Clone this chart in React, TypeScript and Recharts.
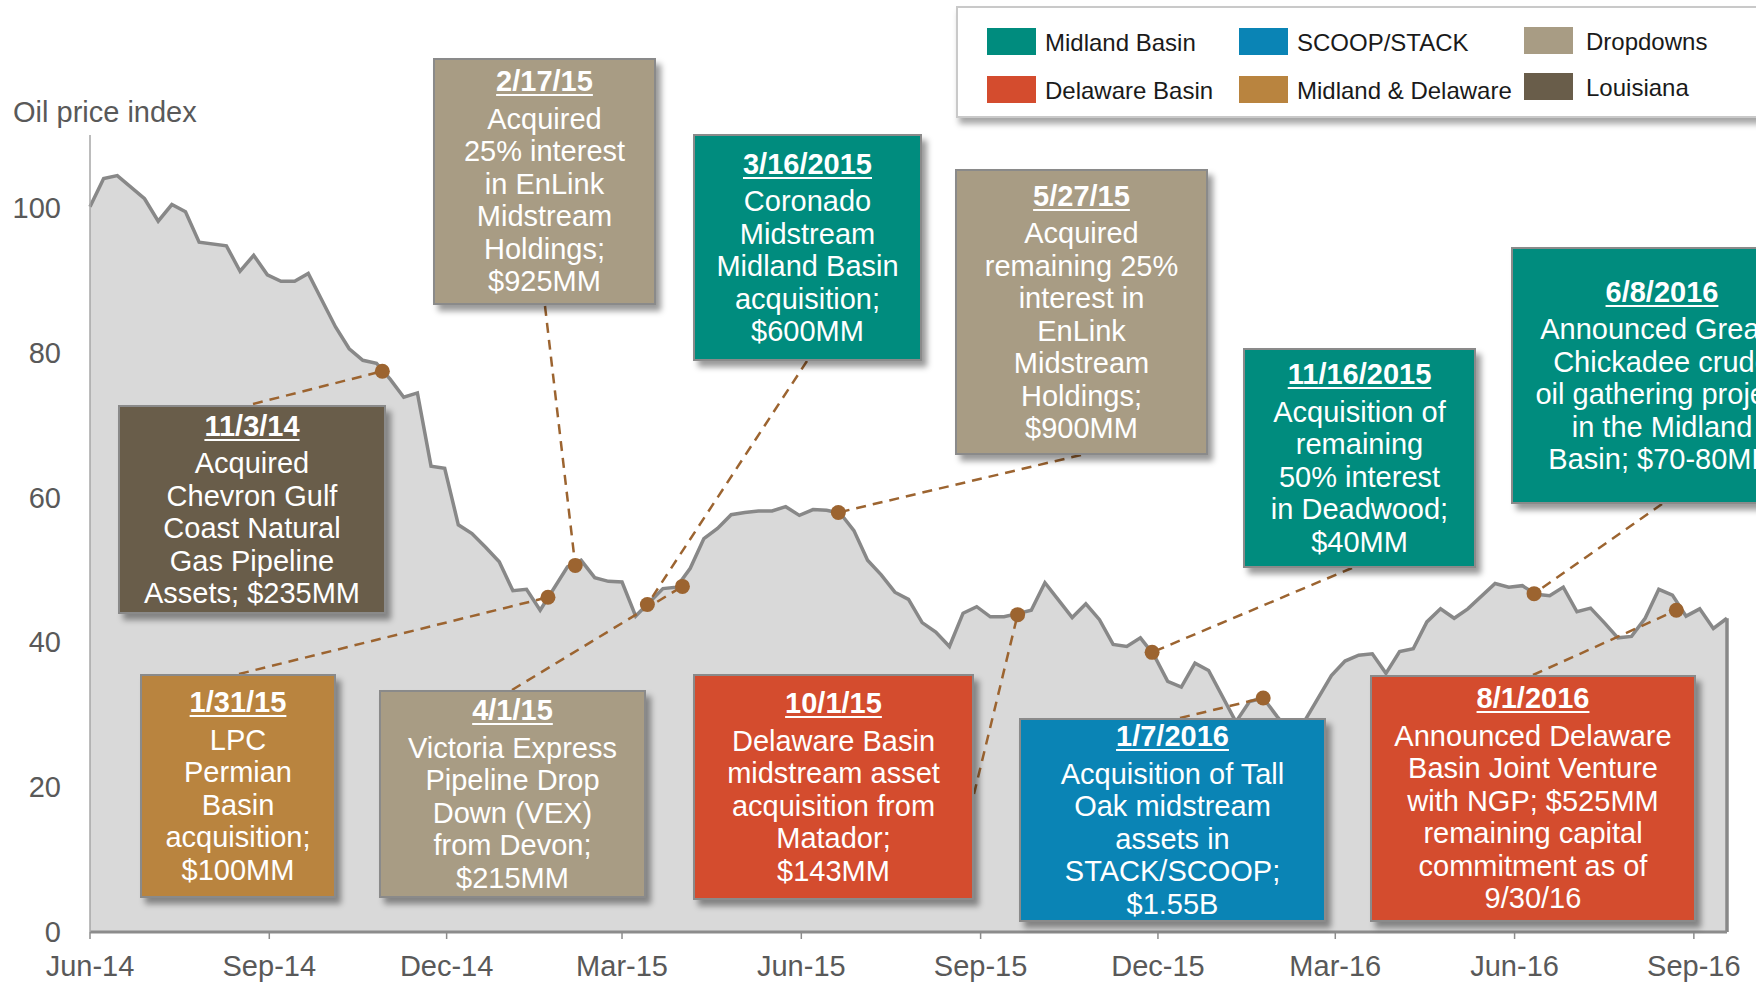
import React from "react";
import {
  ComposedChart,
  Area,
  XAxis,
  YAxis,
  ReferenceDot,
  ReferenceLine,
} from "recharts";

// weekly oil price index
const weekDates = [
  "2014-06-01", "2014-06-08", "2014-06-15", "2014-06-29", "2014-07-06", "2014-07-13",
  "2014-07-20", "2014-07-27", "2014-08-10", "2014-08-17", "2014-08-24", "2014-08-31",
  "2014-09-07", "2014-09-14", "2014-09-21", "2014-09-28", "2014-10-05", "2014-10-12",
  "2014-10-19", "2014-10-26", "2014-11-02", "2014-11-09", "2014-11-16", "2014-11-23",
  "2014-11-30", "2014-12-07", "2014-12-14", "2014-12-21", "2014-12-28", "2015-01-04",
  "2015-01-11", "2015-01-18", "2015-02-01", "2015-02-08", "2015-02-15", "2015-02-22",
  "2015-03-01", "2015-03-08", "2015-03-22", "2015-03-29", "2015-04-05", "2015-04-12",
  "2015-04-19", "2015-04-26", "2015-05-03", "2015-05-10", "2015-05-17", "2015-05-24",
  "2015-05-31", "2015-06-07", "2015-06-14", "2015-06-21", "2015-06-28", "2015-07-05",
  "2015-07-12", "2015-07-19", "2015-07-26", "2015-08-02", "2015-08-09", "2015-08-16",
  "2015-08-23", "2015-08-30", "2015-09-06", "2015-09-13", "2015-09-27", "2015-10-04",
  "2015-10-11", "2015-10-18", "2015-10-25", "2015-11-01", "2015-11-08", "2015-11-15",
  "2015-11-22", "2015-11-29", "2015-12-06", "2015-12-13", "2015-12-20", "2015-12-27",
  "2016-01-10", "2016-01-17", "2016-01-24", "2016-01-31", "2016-02-07", "2016-02-14",
  "2016-02-28", "2016-03-06", "2016-03-13", "2016-03-20", "2016-03-27", "2016-04-03",
  "2016-04-10", "2016-04-17", "2016-04-24", "2016-05-01", "2016-05-08", "2016-05-22",
  "2016-05-29", "2016-06-05", "2016-06-12", "2016-06-19", "2016-06-26", "2016-07-03",
  "2016-07-10", "2016-07-17", "2016-07-24", "2016-07-31", "2016-08-07", "2016-08-14",
  "2016-08-21", "2016-08-28", "2016-09-04", "2016-09-11", "2016-09-18",
];

const oilIndex = [
  100.1, 104.0, 104.4, 101.2, 98.1, 100.4,
  99.4, 95.2, 94.7, 91.2, 93.4, 90.7,
  89.8, 89.8, 90.9, 87.2, 83.5, 80.5,
  78.9, 78.5, 76.3, 73.8, 74.4, 64.3,
  64.0, 56.2, 55.0, 53.1, 51.1, 47.1,
  47.3, 44.4, 50.4, 51.3, 48.9, 48.4,
  48.3, 43.6, 47.4, 47.6, 50.2, 54.3,
  55.7, 57.6, 57.9, 58.1, 58.1, 58.7,
  57.5, 58.3, 58.2, 57.8, 55.4, 51.3,
  49.3, 46.9, 45.9, 42.7, 41.4, 39.4,
  44.0, 44.9, 43.5, 43.5, 44.4, 48.2,
  45.8, 43.4, 45.3, 43.1, 39.7, 39.4,
  40.6, 38.2, 34.6, 33.8, 37.1, 36.1,
  29.0, 31.8, 32.3, 29.8, 27.5, 29.0,
  35.4, 37.4, 38.2, 38.4, 35.7, 38.7,
  39.1, 42.8, 44.6, 43.3, 44.6, 48.1,
  47.6, 47.8, 46.6, 46.4, 47.6, 44.2,
  44.7, 42.7, 40.6, 40.8, 43.3, 47.3,
  46.5, 43.6, 44.6, 41.9, 43.3,
];

const tickDates = [
  "2014-06-01", "2014-09-01", "2014-12-01", "2015-03-01", "2015-06-01",
  "2015-09-01", "2015-12-01", "2016-03-01", "2016-06-01", "2016-09-01",
];
const tickLabels = [
  "Jun-14", "Sep-14", "Dec-14", "Mar-15", "Jun-15",
  "Sep-15", "Dec-15", "Mar-16", "Jun-16", "Sep-16",
];
const yTicks = [0, 20, 40, 60, 80, 100];

const legendNames = [
  "Midland Basin", "Delaware Basin", "SCOOP/STACK",
  "Midland & Delaware", "Dropdowns", "Louisiana",
];
const legendColors = ["#008c7e", "#d44c2e", "#0a84b5", "#b9843f", "#a89c84", "#695d4a"];

// deal events
const eventTitles = [
  "11/3/14", "1/31/15", "2/17/15", "3/16/2015", "4/1/15", "5/27/15",
  "10/1/15", "11/16/2015", "1/7/2016", "6/8/2016", "8/1/2016",
];
const eventText = [
  ["Acquired", "Chevron Gulf", "Coast Natural", "Gas Pipeline", "Assets; $235MM"],
  ["LPC", "Permian", "Basin", "acquisition;", "$100MM"],
  ["Acquired", "25% interest", "in EnLink", "Midstream", "Holdings;", "$925MM"],
  ["Coronado", "Midstream", "Midland Basin", "acquisition;", "$600MM"],
  ["Victoria Express", "Pipeline Drop", "Down (VEX)", "from Devon;", "$215MM"],
  ["Acquired", "remaining 25%", "interest in", "EnLink", "Midstream", "Holdings;", "$900MM"],
  ["Delaware Basin", "midstream asset", "acquisition from", "Matador;", "$143MM"],
  ["Acquisition of", "remaining", "50% interest", "in Deadwood;", "$40MM"],
  ["Acquisition of Tall", "Oak midstream", "assets in", "STACK/SCOOP;", "$1.55B"],
  ["Announced Great\u00a0\u00a0", "Chickadee crude", "oil gathering project", "in the Midland", "Basin; $70-80MM"],
  ["Announced Delaware", "Basin Joint Venture", "with NGP; $525MM", "remaining capital", "commitment as of", "9/30/16"],
];
const eventCategory = [5, 3, 4, 0, 4, 4, 1, 0, 2, 0, 1];
const markerDates = [
  "2014-10-29", "2015-01-22", "2015-02-05", "2015-03-14", "2015-04-01", "2015-06-20",
  "2015-09-20", "2015-11-28", "2016-01-24", "2016-06-11", "2016-08-23",
];
const markerValues = [77.4, 46.2, 50.6, 45.2, 47.7, 57.9, 43.8, 38.6, 32.3, 46.7, 44.4];

// box layout in page pixels: left, top, width, height, connector anchor x, y
const boxLayout = [
  [118, 405, 268, 209, 253, 404],
  [140, 674, 196, 224, 239, 674],
  [433, 58, 223, 247, 545, 306],
  [693, 134, 229, 227, 807, 361],
  [379, 690, 267, 208, 512, 690],
  [955, 169, 253, 286, 1081, 455],
  [693, 674, 281, 226, 974, 794],
  [1243, 348, 233, 220, 1352, 568],
  [1019, 718, 307, 204, 1180, 718],
  [1511, 247, 302, 257, 1662, 504],
  [1370, 675, 326, 247, 1533, 675],
];

const FONT = '"Liberation Sans", Arial, sans-serif';
const W = 1756;
const H = 982;
const PLOT_LEFT = 90;
const PLOT_RIGHT = 1727;
const PLOT_TOP = 135;
const PLOT_BOTTOM = 932;
const Y_MAX = 110;
const BROWN = "#9c6430";

const toTime = (s: string) => {
  const [y, m, d] = s.split("-").map(Number);
  return Date.UTC(y, m - 1, d);
};

const series = weekDates.map((d, i) => ({ t: toTime(d), v: oilIndex[i] }));
const tickTimes = tickDates.map(toTime);
const X_MIN = tickTimes[0];
const X_MAX = series[series.length - 1].t;

// page pixel -> data coordinates, for the box end of each connector
const pxToX = (px: number) =>
  X_MIN + ((px - PLOT_LEFT) / (PLOT_RIGHT - PLOT_LEFT)) * (X_MAX - X_MIN);
const pxToY = (py: number) =>
  (Y_MAX * (PLOT_BOTTOM - py)) / (PLOT_BOTTOM - PLOT_TOP);

const legendPos = [
  [987, 28], [987, 76], [1239, 28], [1239, 76], [1524, 27], [1524, 73],
];

export default function App() {
  const last = series[series.length - 1];
  return (
    <div
      style={{
        position: "absolute",
        left: 0,
        top: 0,
        width: W,
        height: H,
        overflow: "hidden",
        background: "#fff",
        fontFamily: FONT,
      }}
    >
      <ComposedChart
        width={W}
        height={H}
        data={series}
        margin={{ top: PLOT_TOP, right: W - PLOT_RIGHT, bottom: 0, left: 0 }}
      >
        <XAxis
          dataKey="t"
          type="number"
          domain={[X_MIN, X_MAX]}
          ticks={tickTimes}
          interval={0}
          height={H - PLOT_BOTTOM}
          tickFormatter={(v) => tickLabels[tickTimes.indexOf(v)] ?? ""}
          axisLine={{ stroke: "#8c8c8c", strokeWidth: 3 }}
          tickLine={{ stroke: "#8c8c8c", strokeWidth: 1.5 }}
          tickSize={7}
          tickMargin={16}
          tick={{ fill: "#595959", fontSize: 29, fontFamily: FONT }}
        />
        <YAxis
          type="number"
          domain={[0, Y_MAX]}
          ticks={yTicks}
          interval={0}
          width={PLOT_LEFT}
          axisLine={{ stroke: "#a6a6a6", strokeWidth: 1.5 }}
          tickLine={false}
          tickSize={0}
          tickMargin={29}
          tick={{ fill: "#595959", fontSize: 29, fontFamily: FONT }}
        />
        <Area
          type="linear"
          dataKey="v"
          stroke="#888888"
          strokeWidth={3.5}
          fill="#d9d9d9"
          fillOpacity={1}
          dot={false}
          activeDot={false}
          isAnimationActive={false}
        />
        <ReferenceLine
          segment={[
            { x: last.t, y: 0 },
            { x: last.t, y: last.v },
          ]}
          stroke="#888888"
          strokeWidth={3.5}
        />
        {markerDates.map((d, i) => (
          <ReferenceLine
            key={"c" + i}
            ifOverflow="visible"
            segment={[
              { x: pxToX(boxLayout[i][4]), y: pxToY(boxLayout[i][5]) },
              { x: toTime(d), y: markerValues[i] },
            ]}
            stroke={BROWN}
            strokeWidth={2.5}
            strokeDasharray="10 7"
          />
        ))}
        {markerDates.map((d, i) => (
          <ReferenceDot
            key={"d" + i}
            x={toTime(d)}
            y={markerValues[i]}
            r={7.5}
            fill={BROWN}
            stroke="none"
          />
        ))}
      </ComposedChart>

      <div
        style={{
          position: "absolute",
          left: 13,
          top: 98,
          fontSize: 29,
          lineHeight: "29px",
          color: "#595959",
          whiteSpace: "nowrap",
        }}
      >
        Oil price index
      </div>

      {eventTitles.map((title, i) => {
        const [left, top, width, height] = boxLayout[i];
        return (
          <div
            key={title}
            style={{
              position: "absolute",
              left,
              top,
              width,
              height,
              boxSizing: "border-box",
              background: legendColors[eventCategory[i]],
              border: "2px solid #8a8a8a",
              boxShadow: "5px 6px 6px rgba(0,0,0,0.4)",
              display: "flex",
              flexDirection: "column",
              justifyContent: "center",
              alignItems: "center",
              color: "#fff",
              fontSize: 29,
              textAlign: "center",
              whiteSpace: "nowrap",
            }}
          >
            <div
              style={{
                fontWeight: "bold",
                textDecoration: "underline",
                textUnderlineOffset: 3,
                lineHeight: "32.5px",
                marginBottom: 5,
              }}
            >
              {title}
            </div>
            {eventText[i].map((line, j) => (
              <div key={j} style={{ lineHeight: "32.5px" }}>
                {line}
              </div>
            ))}
          </div>
        );
      })}

      <div
        style={{
          position: "absolute",
          left: 956,
          top: 6,
          width: 860,
          height: 112,
          boxSizing: "border-box",
          border: "2px solid #c9c9c9",
          background: "#fff",
          boxShadow: "3px 6px 6px rgba(0,0,0,0.35)",
        }}
      />
      {legendNames.map((name, i) => (
        <React.Fragment key={name}>
          <div
            style={{
              position: "absolute",
              left: legendPos[i][0],
              top: legendPos[i][1],
              width: 49,
              height: 27,
              background: legendColors[i],
            }}
          />
          <div
            style={{
              position: "absolute",
              left: legendPos[i][0] + (i >= 4 ? 62 : 58),
              top: legendPos[i][1] + 1,
              fontSize: 24,
              lineHeight: "27px",
              color: "#1a1a1a",
              whiteSpace: "nowrap",
            }}
          >
            {name}
          </div>
        </React.Fragment>
      ))}
    </div>
  );
}
